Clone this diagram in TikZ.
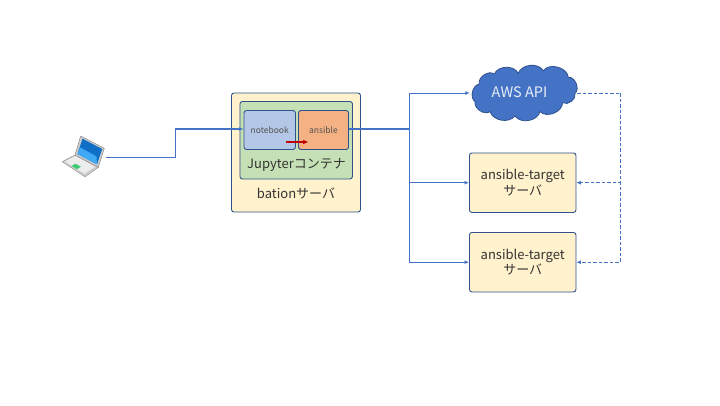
\documentclass[tikz,border=0pt]{standalone}
\usepackage{fontspec}
\setmainfont{Noto Sans CJK JP}
\usetikzlibrary{arrows.meta}
\definecolor{linkblue}{HTML}{4472C4}
\definecolor{edgeblue}{HTML}{2F528F}
\definecolor{fillyellow}{HTML}{FFF2CC}
\definecolor{fillgreen}{HTML}{C5E0B4}
\definecolor{fillblue}{HTML}{B4C7E7}
\definecolor{fillorange}{HTML}{F4B183}
\definecolor{redarrow}{HTML}{C00000}
\definecolor{txt}{HTML}{333333}
\definecolor{screendark}{HTML}{0F6FC6}
\definecolor{screenlight}{HTML}{3FA9F5}
\tikzset{
  box/.style={draw=edgeblue,line width=0.9pt,rounded corners=2.5pt,inner sep=0pt,text=txt,align=center},
  small/.style={font=\fontsize{8.5pt}{10pt}\selectfont,text=black!68},
  link/.style={color=linkblue,line width=0.9pt},
  tip/.style={-{Latex[length=4.5pt,width=4pt]}},
  dashlink/.style={link,line width=0.8pt,dash pattern=on 3.5pt off 2pt},
}
\begin{document}
\begin{tikzpicture}[x=1pt,y=-1pt,font=\fontsize{13pt}{15.5pt}\selectfont]
\useasboundingbox (0,0) rectangle (720,405);
% boxes
\node[box,fill=fillyellow,minimum width=129pt,minimum height=119pt] (bation) at (296,152.5) {};
\node[box,fill=fillgreen,minimum width=112.5pt,minimum height=77.5pt] (jupyter) at (296.2,140.2) {};
\node[box,fill=fillblue,minimum width=51.5pt,minimum height=39pt,small] (notebook) at (269.7,130) {notebook};
\node[box,fill=fillorange,minimum width=50pt,minimum height=39pt,small] (ansible) at (323.5,130) {ansible};
\node[text=txt,inner sep=0pt] (jlabel) at (296.5,165) {Jupyterコンテナ};
\node[text=txt,inner sep=0pt] (blabel) at (296,193) {bationサーバ};
\node[box,fill=fillyellow,minimum width=106.5pt,minimum height=59.5pt] (t1) at (522.7,182.7) {ansible-target\\サーバ};
\node[box,fill=fillyellow,minimum width=106.5pt,minimum height=59.5pt] (t2) at (522.7,262.2) {ansible-target\\サーバ};
% cloud
\draw[draw=edgeblue,line width=0.8pt,fill=linkblue]
  (479.3,84) to[bend left=70] (494.3,74)
  to[bend left=65] (518.3,73.3)
  to[bend left=65] (543.3,70.7)
  to[bend left=70] (568.3,77.3)
  to[bend left=75] (575,93.3)
  to[bend left=70] (562.7,102.7)
  to[bend left=65] (540,111.7)
  to[bend left=65] (515,116)
  to[bend left=60] (490,111.7)
  to[bend left=65] (475,101.7)
  to[bend left=65] cycle;
\node[inner sep=0pt,minimum width=107pt,minimum height=54pt,text=white!88!linkblue,font=\fontsize{14.5pt}{16pt}\selectfont,xshift=-4pt] (cloudtext) at (523.5,92) {AWS API};
\node[inner sep=0pt,minimum width=107pt,minimum height=54pt] (cloud) at (523.5,93) {};
\node[inner sep=0pt,minimum width=44pt,minimum height=40pt] (laptop) at (84,157) {};
% connectors
\coordinate (out) at (ansible.east|-0,129);
\coordinate (bus) at (409,129);
\draw[link,tip] (out) -- (bus) |- (cloud.west);
\draw[link,line width=1.6pt] (out) -- (bus);
\draw[link,tip] (out) -- (bus) |- (t1.west);
\draw[link,tip] (out) -- (bus) |- (t2.west);
\coordinate (ret) at (620,93);
\draw[dashlink] (cloud.east) -- (ret);
\draw[dashlink,tip] (ret) |- (t1.east);
\draw[dashlink,tip] (ret) |- (t2.east);
% red arrow
\coordinate (rs) at (286,142);
\coordinate (re) at (308.5,142);
\draw[color=redarrow,line width=1.4pt,-{Latex[length=5.5pt,width=5pt]}] (rs) -- (re);
% laptop
\draw[fill=white!82!black,draw=black!45,line width=0.5pt,line join=round] (62.3,161.7) -- (75,155) -- (98.3,167.3) -- (85,176.7) -- cycle;
\fill[white!93!black] (65,161.5) -- (75.5,156) -- (95,166.5) -- (84.5,173.5) -- cycle;
\fill[green!45!teal!75!white] (71.5,166) -- (75.5,163.7) -- (81,166.7) -- (77,169.2) -- cycle;
\draw[fill=white!80!black,draw=black!45,line width=0.5pt,line join=round] (80.7,136) -- (104.3,148.3) -- (98.3,167.3) -- (75,155) -- cycle;
\fill[screendark] (82.5,138.7) -- (102.2,149) -- (97,164.3) -- (77.5,154) -- cycle;
\fill[screenlight] (80.5,147.5) -- (96.5,156.5) -- (97,164.3) -- (77.5,154) -- cycle;
% laptop link, drawn last
\coordinate (bend) at (175.5,157.3);
\coordinate (inl) at (notebook.west|-0,129);
\draw[draw=linkblue,line width=1.2pt,tip] (laptop.east|-bend) -- (bend) |- (inl);
\end{tikzpicture}
\end{document}
